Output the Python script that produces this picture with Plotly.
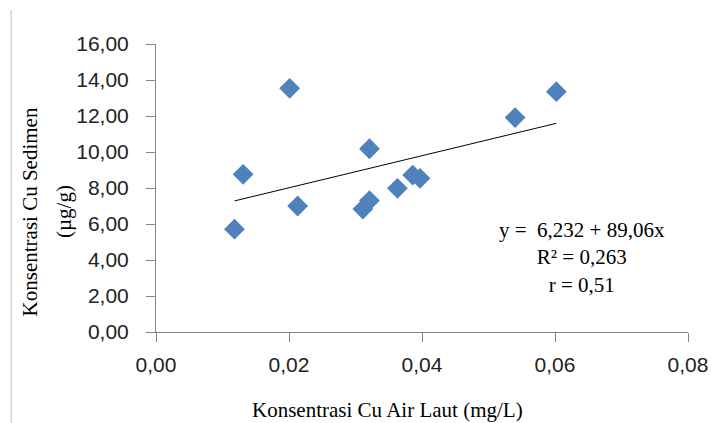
import plotly.graph_objects as go

# Data
cu_air_laut = [0.0118, 0.0131, 0.0201, 0.0213, 0.0311, 0.0321, 0.0321, 0.0363, 0.0386, 0.0397, 0.0540, 0.0602]
cu_sedimen = [5.71, 8.76, 13.54, 7.00, 6.83, 7.30, 10.18, 7.98, 8.72, 8.54, 11.91, 13.35]
intercept = 6.232
slope = 89.06
x_tick_vals = [0, 0.02, 0.04, 0.06, 0.08]
y_tick_vals = [0, 2, 4, 6, 8, 10, 12, 14, 16]

trend_x = [min(cu_air_laut), max(cu_air_laut)]
trend_y = [intercept + slope * v for v in trend_x]

W, H = 720, 423
ML, MR, MT, MB = 156, 26, 44, 91
PW, PH = W - ML - MR, H - MT - MB

def px_to_paper_x(px):
    return (px - ML) / PW

def px_to_paper_y(py):
    return (H - MB - py) / PH

fig = go.Figure()
fig.add_trace(go.Scatter(
    x=cu_air_laut, y=cu_sedimen, mode="markers",
    marker=dict(symbol="diamond", size=16, color="#4F81BD", line=dict(width=0)),
    showlegend=False, hoverinfo="x+y"))
fig.add_trace(go.Scatter(
    x=trend_x, y=trend_y, mode="lines",
    line=dict(color="#000000", width=1), showlegend=False, hoverinfo="skip"))

axis_common = dict(showgrid=False, zeroline=False, showline=True, linecolor="#868686",
                   linewidth=1, ticks="outside", ticklen=9, tickcolor="#868686",
                   tickfont=dict(family="Liberation Sans", size=21, color="#222222"),
                   tickformat=".2f")

fig.update_layout(
    width=W, height=H,
    margin=dict(l=ML, r=MR, t=MT, b=MB, pad=0),
    paper_bgcolor="white", plot_bgcolor="white",
    separators=",.",
    xaxis=dict(range=[0, 0.08], tickvals=x_tick_vals, ticklabelstandoff=5, **axis_common),
    yaxis=dict(range=[0, 16], tickvals=y_tick_vals, ticklabelstandoff=13, **axis_common),
    font=dict(family="Liberation Serif", color="#000000"),
)

serif = dict(family="Liberation Serif", size=21, color="#000000")

annotations = [
    dict(text="Konsentrasi Cu Air Laut (mg/L)", x=px_to_paper_x(390), y=px_to_paper_y(410),
         xref="paper", yref="paper", showarrow=False, font=serif, xanchor="center", yanchor="middle"),
    dict(text="Konsentrasi Cu Sedimen", x=px_to_paper_x(29), y=px_to_paper_y(212),
         xref="paper", yref="paper", showarrow=False, font=serif, textangle=-90,
         xanchor="center", yanchor="middle"),
    dict(text="(µg/g)", x=px_to_paper_x(63), y=px_to_paper_y(212),
         xref="paper", yref="paper", showarrow=False, font=serif, textangle=-90,
         xanchor="center", yanchor="middle"),
    dict(text="y =  6,232 + 89,06x<br>R² = 0,263<br>r = 0,51",
         x=px_to_paper_x(587), y=px_to_paper_y(257),
         xref="paper", yref="paper", showarrow=False, font=serif, align="center",
         xanchor="center", yanchor="middle"),
]
fig.update_layout(annotations=annotations)

fig.add_shape(type="line", xref="paper", yref="paper",
              x0=px_to_paper_x(9.5), x1=px_to_paper_x(9.5),
              y0=px_to_paper_y(10), y1=px_to_paper_y(423),
              line=dict(color="#BFBFBF", width=1))

fig.write_html("out.html", config={"displayModeBar": False},
               post_script="document.body.style.margin='0';document.body.style.overflow='hidden';")
